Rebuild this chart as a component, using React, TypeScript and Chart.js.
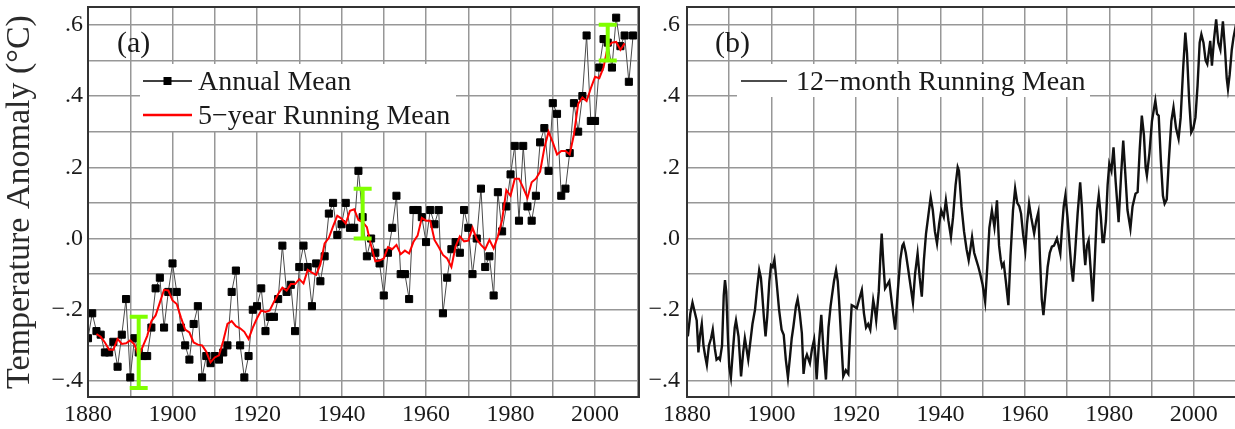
import React, { useEffect, useRef } from 'react';
import { Chart, registerables } from 'chart.js';

Chart.register(...registerables);

const FONT = "'Liberation Serif', 'Times New Roman', Times, serif";
const TEXT_COLOR = '#1a1a1a';
const GRID_COLOR = '#979797';

// ---------- Panel (a) data ----------
const annualStartYear = 1880;
const annualMean = [
  -0.28, -0.21, -0.26, -0.27, -0.32, -0.32, -0.29, -0.36, -0.27, -0.17,
  -0.39, -0.28, -0.32, -0.33, -0.33, -0.25, -0.14, -0.11, -0.25, -0.15,
  -0.07, -0.15, -0.25, -0.30, -0.34, -0.24, -0.19, -0.39, -0.33, -0.35,
  -0.33, -0.34, -0.32, -0.30, -0.15, -0.09, -0.30, -0.39, -0.33, -0.20,
  -0.19, -0.14, -0.26, -0.22, -0.22, -0.17, -0.02, -0.15, -0.13, -0.26,
  -0.08, -0.02, -0.08, -0.19, -0.07, -0.12, -0.05, 0.07, 0.10, 0.01,
  0.04, 0.10, 0.03, 0.03, 0.19, 0.06, -0.05, 0.00, -0.04, -0.07,
  -0.16, -0.04, 0.03, 0.12, -0.10, -0.10, -0.17, 0.08, 0.08, 0.06,
  -0.01, 0.08, 0.04, 0.08, -0.21, -0.11, -0.03, -0.01, -0.04, 0.08,
  0.03, -0.10, 0.00, 0.14, -0.08, -0.05, -0.16, 0.13, 0.02, 0.09,
  0.18, 0.26, 0.05, 0.26, 0.09, 0.05, 0.12, 0.27, 0.31, 0.19,
  0.38, 0.35, 0.12, 0.14, 0.24, 0.38, 0.30, 0.40, 0.57, 0.33,
  0.33, 0.48, 0.56, 0.55, 0.48, 0.62, 0.54, 0.57, 0.44, 0.57,
];

const runningStartYear = 1882;
const runningMean5 = [
  -0.268, -0.276, -0.292, -0.312, -0.312, -0.282, -0.296, -0.294, -0.286, -0.298,
  -0.330, -0.302, -0.274, -0.232, -0.216, -0.180, -0.144, -0.146, -0.174, -0.184,
  -0.222, -0.256, -0.264, -0.292, -0.298, -0.300, -0.318, -0.348, -0.334, -0.328,
  -0.288, -0.240, -0.232, -0.246, -0.252, -0.262, -0.282, -0.250, -0.224, -0.202,
  -0.206, -0.202, -0.178, -0.156, -0.138, -0.146, -0.128, -0.128, -0.114, -0.126,
  -0.088, -0.096, -0.102, -0.072, -0.014, 0.002, 0.034, 0.064, 0.056, 0.042,
  0.078, 0.082, 0.052, 0.046, 0.032, -0.020, -0.064, -0.062, -0.056, -0.024,
  -0.030, -0.018, -0.044, -0.034, -0.042, -0.010, 0.008, 0.058, 0.050, 0.050,
  -0.004, -0.024, -0.046, -0.056, -0.080, -0.022, 0.006, -0.008, -0.006, 0.030,
  -0.002, -0.018, -0.030, -0.004, -0.028, 0.006, 0.052, 0.136, 0.120, 0.168,
  0.168, 0.142, 0.114, 0.158, 0.168, 0.188, 0.254, 0.300, 0.270, 0.236,
  0.246, 0.246, 0.236, 0.292, 0.378, 0.396, 0.386, 0.422, 0.454, 0.450,
  0.480, 0.538, 0.550, 0.552, 0.530, 0.548,
];

const errorYears = [1892, 1945, 2003];
const errorLow = [-0.42, 0.0, 0.5];
const errorHigh = [-0.22, 0.14, 0.6];

// ---------- Panel (b) data: 12-month running mean ----------
const monthlyYears = [
  1880.2, 1880.8, 1881.3, 1881.7, 1882.3, 1882.7, 1883.1, 1883.5, 1883.9, 1884.3,
  1884.7, 1885.2, 1885.7, 1886.1, 1886.6, 1887.0, 1887.5, 1887.8, 1888.3, 1888.7,
  1889.0, 1889.3, 1889.7, 1890.0, 1890.4, 1890.9, 1891.3, 1891.6, 1892.2, 1892.5,
  1892.8, 1893.3, 1893.7, 1894.1, 1894.5, 1894.9, 1895.5, 1896.1, 1896.6, 1897.1,
  1897.5, 1897.8, 1898.2, 1898.6, 1899.0, 1899.5, 1899.9, 1900.3, 1900.7, 1901.2,
  1901.8, 1902.4, 1902.9, 1903.4, 1903.9, 1904.4, 1904.8, 1905.2, 1905.8, 1906.2,
  1906.7, 1907.2, 1907.6, 1908.0, 1908.4, 1908.8, 1909.1, 1909.6, 1910.1, 1910.4,
  1910.7, 1911.2, 1911.8, 1912.3, 1912.9, 1913.5, 1914.0, 1914.3, 1914.8, 1915.3,
  1915.7, 1916.0, 1916.5, 1917.0, 1917.6, 1918.2, 1918.6, 1919.0, 1919.5, 1920.2,
  1920.8, 1921.4, 1921.9, 1922.4, 1922.9, 1923.4, 1923.8, 1924.1, 1924.5, 1924.8,
  1925.4, 1925.8, 1926.1, 1926.5, 1926.9, 1927.4, 1927.9, 1928.6, 1929.3, 1929.9,
  1930.5, 1931.0, 1931.3, 1931.8, 1932.3, 1932.9, 1933.5, 1934.0, 1934.6, 1935.1,
  1935.6, 1936.1, 1936.6, 1937.1, 1937.7, 1938.2, 1938.7, 1939.2, 1939.7, 1940.2,
  1940.8, 1941.3, 1941.9, 1942.5, 1943.0, 1943.6, 1944.1, 1944.4, 1945.0, 1945.6,
  1946.2, 1946.7, 1947.1, 1947.5, 1948.0, 1948.5, 1949.0, 1949.4, 1950.0, 1950.6,
  1951.1, 1951.6, 1952.2, 1952.8, 1953.4, 1953.9, 1954.3, 1954.6, 1955.0, 1955.5,
  1956.1, 1956.6, 1957.2, 1957.7, 1958.2, 1958.7, 1959.1, 1959.6, 1960.1, 1960.5,
  1961.0, 1961.5, 1962.2, 1962.7, 1963.2, 1963.6, 1964.0, 1964.4, 1964.9, 1965.4,
  1965.9, 1966.4, 1966.9, 1967.6, 1968.0, 1968.4, 1968.8, 1969.2, 1969.6, 1970.1,
  1970.6, 1971.0, 1971.4, 1971.9, 1972.5, 1973.1, 1973.5, 1974.0, 1974.3, 1974.7,
  1975.1, 1975.6, 1976.1, 1976.6, 1977.1, 1977.5, 1978.0, 1978.4, 1978.7, 1979.2,
  1979.6, 1980.0, 1980.5, 1981.0, 1981.5, 1982.0, 1982.2, 1982.8, 1983.3, 1983.8,
  1984.3, 1985.0, 1985.5, 1986.2, 1986.7, 1987.2, 1987.7, 1988.2, 1988.6, 1988.9,
  1989.5, 1990.1, 1990.9, 1991.3, 1991.7, 1992.2, 1992.7, 1993.1, 1993.6, 1994.1,
  1994.7, 1995.2, 1995.8, 1996.4, 1996.9, 1997.5, 1998.0, 1998.4, 1998.9, 1999.4,
  1999.9, 2000.4, 2000.9, 2001.4, 2001.8, 2002.3, 2002.8, 2003.2, 2003.9, 2004.3,
  2004.8, 2005.3, 2005.8, 2006.3, 2006.9, 2007.4, 2007.8, 2008.1, 2008.5, 2009.0,
  2009.4, 2010.0,
];
const monthlyValues = [
  -0.275, -0.21, -0.18, -0.20, -0.23, -0.32, -0.27, -0.24, -0.30, -0.33,
  -0.355, -0.30, -0.28, -0.256, -0.31, -0.34, -0.335, -0.34, -0.30, -0.16,
  -0.117, -0.15, -0.28, -0.36, -0.39, -0.31, -0.25, -0.23, -0.275, -0.33,
  -0.387, -0.32, -0.28, -0.31, -0.34, -0.30, -0.24, -0.20, -0.14, -0.089,
  -0.11, -0.154, -0.22, -0.275, -0.22, -0.12, -0.075, -0.08, -0.06, -0.12,
  -0.20, -0.256, -0.27, -0.34, -0.39, -0.33, -0.28, -0.247, -0.19, -0.17,
  -0.21, -0.266, -0.38, -0.34, -0.326, -0.34, -0.35, -0.31, -0.284, -0.33,
  -0.396, -0.30, -0.214, -0.31, -0.396, -0.25, -0.19, -0.163, -0.12, -0.089,
  -0.12, -0.173, -0.28, -0.387, -0.37, -0.38, -0.27, -0.187, -0.19, -0.196,
  -0.17, -0.145, -0.21, -0.25, -0.24, -0.256, -0.21, -0.173, -0.20, -0.23,
  -0.15, -0.05, 0.014, -0.07, -0.14, -0.13, -0.12, -0.19, -0.256, -0.15,
  -0.06, -0.02, -0.014, -0.04, -0.08, -0.13, -0.18, -0.10, -0.042, -0.11,
  -0.163, -0.06, 0.014, 0.06, 0.116, 0.08, 0.02, -0.014, 0.04, 0.079,
  0.06, 0.107, 0.05, 0.004, 0.06, 0.15, 0.20, 0.19, 0.09, 0.02,
  -0.03, -0.061, -0.03, 0.004, -0.04, -0.06, -0.08, -0.098, -0.13, -0.177,
  -0.08, 0.03, 0.079, 0.032, 0.107, -0.02, -0.06, -0.079, -0.07, -0.12,
  -0.187, -0.05, 0.08, 0.14, 0.10, 0.09, 0.07, 0.01, -0.033, 0.04,
  0.098, 0.06, 0.014, 0.05, 0.074, -0.06, -0.17, -0.215, -0.15, -0.08,
  -0.04, -0.023, -0.02, 0.0, -0.02, -0.042, 0.03, 0.09, 0.121, 0.06,
  -0.02, -0.08, -0.121, -0.04, 0.07, 0.158, 0.09, -0.03, -0.075, -0.02,
  -0.005, -0.09, -0.177, -0.05, 0.08, 0.121, 0.06, -0.01, -0.01, 0.05,
  0.15, 0.21, 0.19, 0.256, 0.16, 0.08, 0.046, 0.18, 0.275, 0.18,
  0.08, 0.028, 0.09, 0.126, 0.13, 0.25, 0.345, 0.29, 0.20, 0.177,
  0.24, 0.33, 0.387, 0.35, 0.345, 0.22, 0.12, 0.098, 0.11, 0.22,
  0.33, 0.368, 0.31, 0.28, 0.34, 0.48, 0.578, 0.52, 0.39, 0.298,
  0.31, 0.34, 0.43, 0.55, 0.573, 0.55, 0.50, 0.49, 0.555, 0.485,
  0.56, 0.615, 0.55, 0.53, 0.61, 0.53, 0.45, 0.42, 0.46, 0.53,
  0.564, 0.60,
];

// ---------- Axis settings ----------
const yMin = -0.445;
const yMax = 0.65;
const yStep = 0.1;
const xMin = 1880;
const xMaxA = 2010.4;
const xMaxB = 2010;
const xStep = 10;

const yTitle = 'Temperature Anomaly (°C)';

function yTickLabel(v: number): string {
  const r = Math.round(v * 10);
  if (r % 2 !== 0) return '';
  if (r === 0) return '.0';
  return (r < 0 ? '\u2212' : '') + '.' + Math.abs(r);
}
function xTickLabel(v: number): string {
  const r = Math.round(v);
  return r % 20 === 0 ? String(r) : '';
}

type LegendItem = {
  kind: 'marker' | 'line';
  color: string;
  lineWidth: number;
  x0: number;
  x1: number;
  y: number;
  text: string;
  textX: number;
  textY: number;
};

type DecorCfg = {
  label: string;
  labelX: number;
  labelY: number;
  box: [number, number, number, number];
  items: LegendItem[];
  errorBars: boolean;
};

function makeDecor(cfg: DecorCfg) {
  return {
    id: 'decor',
    beforeDatasetsDraw(chart: any) {
      const ctx = chart.ctx as CanvasRenderingContext2D;
      ctx.save();
      ctx.fillStyle = TEXT_COLOR;
      ctx.font = `30px ${FONT}`;
      ctx.textBaseline = 'alphabetic';
      ctx.textAlign = 'left';
      ctx.fillText(cfg.label, cfg.labelX, cfg.labelY);
      const [bx, by, bw, bh] = cfg.box;
      ctx.fillStyle = '#ffffff';
      ctx.fillRect(bx, by, bw, bh);
      for (const it of cfg.items) {
        ctx.strokeStyle = it.color;
        ctx.lineWidth = it.lineWidth;
        ctx.beginPath();
        ctx.moveTo(it.x0, it.y);
        ctx.lineTo(it.x1, it.y);
        ctx.stroke();
        if (it.kind === 'marker') {
          ctx.fillStyle = '#000';
          const cx = (it.x0 + it.x1) / 2;
          ctx.fillRect(cx - 4, it.y - 4, 8, 8);
        }
        ctx.fillStyle = TEXT_COLOR;
        ctx.font = `28px ${FONT}`;
        ctx.fillText(it.text, it.textX, it.textY);
      }
      ctx.restore();
    },
    afterDatasetsDraw(chart: any) {
      const ctx = chart.ctx as CanvasRenderingContext2D;
      const xs = chart.scales.x;
      const ys = chart.scales.y;
      ctx.save();
      if (cfg.errorBars) {
        ctx.strokeStyle = '#80ff00';
        ctx.lineWidth = 4;
        for (let i = 0; i < errorYears.length; i++) {
          const x = xs.getPixelForValue(errorYears[i]);
          const yt = ys.getPixelForValue(errorHigh[i]);
          const yb = ys.getPixelForValue(errorLow[i]);
          ctx.beginPath();
          ctx.moveTo(x, yt);
          ctx.lineTo(x, yb);
          ctx.moveTo(x - 9, yt);
          ctx.lineTo(x + 9, yt);
          ctx.moveTo(x - 9, yb);
          ctx.lineTo(x + 9, yb);
          ctx.stroke();
        }
      }
      const a = chart.chartArea;
      ctx.strokeStyle = '#333';
      ctx.lineWidth = 2;
      ctx.strokeRect(a.left, a.top, a.right - a.left, a.bottom - a.top);
      ctx.restore();
    },
  };
}

function baseScales(xMax: number, yWidth: number, withTitle: boolean, tickPad: number) {
  return {
    x: {
      type: 'linear',
      min: xMin,
      max: xMax,
      afterFit: (s: any) => {
        s.height = 32;
        s.paddingLeft = 0;
        s.paddingRight = 0;
      },
      border: { display: false },
      grid: { color: GRID_COLOR, lineWidth: 1.5, drawTicks: false },
      ticks: {
        stepSize: xStep,
        includeBounds: false,
        autoSkip: false,
        maxRotation: 0,
        minRotation: 0,
        padding: 3,
        color: TEXT_COLOR,
        font: { family: FONT, size: 24 },
        callback: (v: any) => xTickLabel(Number(v)),
      },
    },
    y: {
      type: 'linear',
      min: yMin,
      max: yMax,
      afterFit: (s: any) => {
        s.width = yWidth;
        s.paddingTop = 0;
        s.paddingBottom = 0;
      },
      border: { display: false },
      grid: { color: GRID_COLOR, lineWidth: 1.5, drawTicks: false },
      title: {
        display: withTitle,
        text: yTitle,
        color: '#2a2a2a',
        font: { family: FONT, size: 34 },
        padding: { top: 0, bottom: 0 },
      },
      ticks: {
        stepSize: yStep,
        includeBounds: false,
        autoSkip: false,
        padding: tickPad,
        color: TEXT_COLOR,
        font: { family: FONT, size: 24 },
        callback: (v: any) => yTickLabel(Number(v)),
      },
    },
  };
}

export default function App() {
  const refA = useRef<HTMLCanvasElement>(null);
  const refB = useRef<HTMLCanvasElement>(null);

  useEffect(() => {
    document.documentElement.style.overflow = 'hidden';
    document.body.style.overflow = 'hidden';

    const annualPts = annualMean.map((v, i) => ({ x: annualStartYear + i, y: v }));
    const runPts = runningMean5.map((v, i) => ({ x: runningStartYear + i, y: v }));
    const monthPts = monthlyValues.map((v, i) => ({ x: monthlyYears[i], y: v }));

    const chartA = new Chart(refA.current as HTMLCanvasElement, {
      type: 'line',
      data: {
        datasets: [
          {
            label: 'Annual Mean',
            data: annualPts,
            borderColor: '#4a4a4a',
            borderWidth: 1,
            pointStyle: 'rect',
            pointRadius: 5,
            pointBackgroundColor: '#000',
            pointBorderColor: '#000',
            pointBorderWidth: 1,
            order: 1,
          },
          {
            label: '5\u2212year Running Mean',
            data: runPts,
            borderColor: '#ff0000',
            borderWidth: 2,
            pointRadius: 0,
            order: 0,
          },
        ],
      },
      options: {
        responsive: false,
        animation: false,
        layout: { padding: { left: 0, right: 3, top: 7, bottom: 0 } },
        plugins: { legend: { display: false }, tooltip: { enabled: false } },
        scales: baseScales(xMaxA, 88, true, 5) as any,
      },
      plugins: [
        makeDecor({
          label: '(a)',
          labelX: 117,
          labelY: 52,
          box: [140, 64, 316, 67],
          items: [
            { kind: 'marker', color: '#000', lineWidth: 1.5, x0: 143, x1: 192, y: 81, text: 'Annual Mean', textX: 198, textY: 90 },
            { kind: 'line', color: '#ff0000', lineWidth: 2.5, x0: 143, x1: 192, y: 115, text: '5\u2212year Running Mean', textX: 198, textY: 124 },
          ],
          errorBars: true,
        }),
      ],
    } as any);

    const chartB = new Chart(refB.current as HTMLCanvasElement, {
      type: 'line',
      data: {
        datasets: [
          {
            label: '12\u2212month Running Mean',
            data: monthPts,
            borderColor: '#111',
            borderWidth: 2.4,
            pointRadius: 0,
            tension: 0,
          },
        ],
      },
      options: {
        responsive: false,
        animation: false,
        layout: { padding: { left: 0, right: 4, top: 7, bottom: 0 } },
        plugins: { legend: { display: false }, tooltip: { enabled: false } },
        scales: baseScales(xMaxB, 47, false, 7) as any,
      },
      plugins: [
        makeDecor({
          label: '(b)',
          labelX: 75,
          labelY: 52,
          box: [97, 64, 353, 33],
          items: [
            { kind: 'line', color: '#111', lineWidth: 1.5, x0: 101, x1: 147, y: 81, text: '12\u2212month Running Mean', textX: 156, textY: 90 },
          ],
          errorBars: false,
        }),
      ],
    } as any);

    return () => {
      chartA.destroy();
      chartB.destroy();
    };
  }, []);

  return (
    <div
      style={{
        position: 'fixed',
        left: 0,
        top: 0,
        width: 1235,
        height: 429,
        overflow: 'hidden',
        background: '#fff',
      }}
    >
      <canvas
        ref={refA}
        width={645}
        height={429}
        style={{ position: 'absolute', left: 0, top: 0, width: 645, height: 429 }}
      />
      <canvas
        ref={refB}
        width={600}
        height={429}
        style={{ position: 'absolute', left: 640, top: 0, width: 600, height: 429 }}
      />
    </div>
  );
}
